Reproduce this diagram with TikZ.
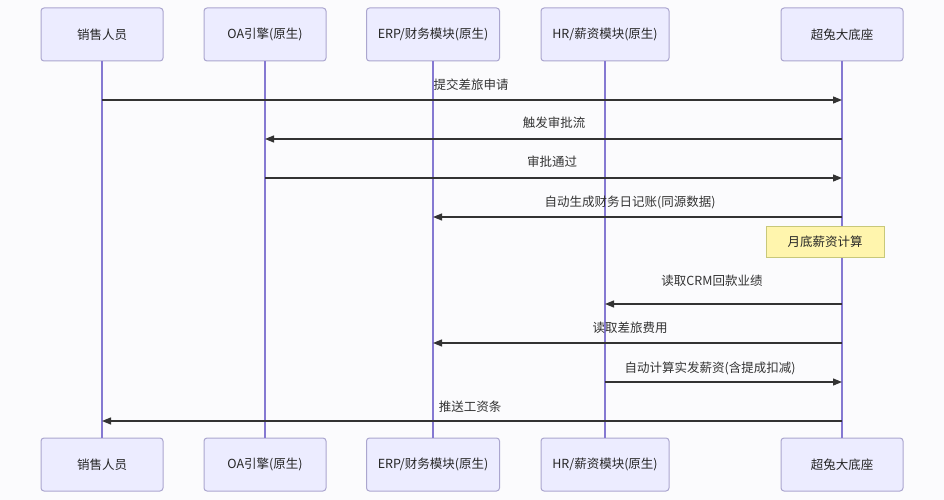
\documentclass[tikz,border=0pt]{standalone}
\usepackage{fontspec}
\setmainfont{Noto Sans CJK SC}
\usetikzlibrary{arrows.meta}
\definecolor{bgc}{HTML}{FBFBFD}
\definecolor{actfill}{HTML}{ECECFF}
\definecolor{actline}{HTML}{ABA6CF}
\definecolor{lifec}{HTML}{8579D2}
\definecolor{msgc}{HTML}{333333}
\definecolor{notefill}{HTML}{FFF5AD}
\definecolor{noteline}{HTML}{C8C87A}
\tikzset{
  actor/.style={draw=actline, fill=actfill, line width=1pt, rounded corners=3pt,
    minimum height=53pt, inner sep=0pt, font=\fontsize{12.5}{14}\selectfont, text=black!85},
  life/.style={draw=lifec, line width=1.2pt},
  msg/.style={draw=msgc, line width=1.2pt, -{Triangle[length=9pt,width=7pt]}},
  lbl/.style={inner sep=0pt, font=\fontsize{12.5}{14}\selectfont, text=black!80},
  notebox/.style={draw=noteline, fill=notefill, line width=1pt, minimum width=118pt,
    minimum height=31pt, inner sep=0pt, font=\fontsize{12.5}{14}\selectfont, text=black!85}
}
\begin{document}
\begin{tikzpicture}[x=1pt,y=-1pt]
\useasboundingbox[fill=bgc] (0,0) rectangle (944,500);
% top actors
\node[actor, minimum width=122pt] (a1) at (102,34.5) {销售人员};
\node[actor, minimum width=122pt] (a2) at (265,34.5) {OA引擎(原生)};
\node[actor, minimum width=133pt] (a3) at (433,34.5) {ERP/财务模块(原生)};
\node[actor, minimum width=128pt] (a4) at (605,34.5) {HR/薪资模块(原生)};
\node[actor, minimum width=122pt] (a5) at (842,34.5) {超兔大底座};
% bottom actors
\node[actor, minimum width=122pt] (b1) at (102,464.5) {销售人员};
\node[actor, minimum width=122pt] (b2) at (265,464.5) {OA引擎(原生)};
\node[actor, minimum width=133pt] (b3) at (433,464.5) {ERP/财务模块(原生)};
\node[actor, minimum width=128pt] (b4) at (605,464.5) {HR/薪资模块(原生)};
\node[actor, minimum width=122pt] (b5) at (842,464.5) {超兔大底座};
% lifelines
\foreach \i in {1,...,5}{\draw[life] (a\i.south) -- (b\i.north);}
% message anchor points
\coordinate (s1) at (102,100);   \coordinate (e1) at (842,100);
\coordinate (s2) at (842,139);   \coordinate (e2) at (265,139);
\coordinate (s3) at (265,178);   \coordinate (e3) at (842,178);
\coordinate (s4) at (842,217);   \coordinate (e4) at (433,217);
\coordinate (s6) at (842,304);   \coordinate (e6) at (605,304);
\coordinate (s7) at (842,343);   \coordinate (e7) at (433,343);
\coordinate (s8) at (605,382);   \coordinate (e8) at (842,382);
\coordinate (s9) at (842,421);   \coordinate (e9) at (102,421);
\draw[msg] (s1) -- (e1);
\draw[msg] (s2) -- (e2);
\draw[msg] (s3) -- (e3);
\draw[msg] (s4) -- (e4);
\draw[msg] (s6) -- (e6);
\draw[msg] (s7) -- (e7);
\draw[msg] (s8) -- (e8);
\draw[msg] (s9) -- (e9);
% labels
\node[lbl] (t1) at (471,85) {提交差旅申请};
\node[lbl] (t2) at (554,123) {触发审批流};
\node[lbl] (t3) at (552,162) {审批通过};
\node[lbl] (t4) at (630,202) {自动生成财务日记账(同源数据)};
\node[lbl] (t6) at (712,281) {读取CRM回款业绩};
\node[lbl] (t7) at (630,328) {读取差旅费用};
\node[lbl] (t8) at (710,368) {自动计算实发薪资(含提成扣减)};
\node[lbl] (t9) at (470,407) {推送工资条};
% note
\node[notebox] (n1) at (825,241.5) {月底薪资计算};
\end{tikzpicture}
\end{document}
